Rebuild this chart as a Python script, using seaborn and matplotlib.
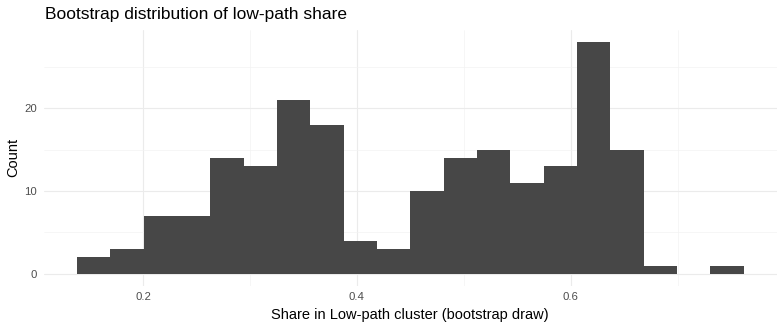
import matplotlib
matplotlib.use("Agg")
import matplotlib.pyplot as plt
import seaborn as sns
import numpy as np
import pandas as pd
from matplotlib.ticker import MultipleLocator

# Histogram data
bin_left = 0.1383
bin_width = 0.03117
counts = [2, 3, 7, 7, 14, 13, 21, 18, 4, 3, 10, 14, 15, 11, 13, 28, 15, 1, 0, 1]
x_ticks = [0.2, 0.4, 0.6]
x_tick_labels = ["0.2", "0.4", "0.6"]
y_ticks = [0, 10, 20]
y_tick_labels = ["0", "10", "20"]

title = "Bootstrap distribution of low-path share"
xlabel = "Share in Low-path cluster (bootstrap draw)"
ylabel = "Count"

edges = [bin_left + bin_width * i for i in range(len(counts) + 1)]
centers = [(edges[i] + edges[i + 1]) / 2 for i in range(len(counts))]
df = pd.DataFrame({"share": centers, "count": counts})

sns.set_style("white")
plt.rcParams["font.family"] = ["Liberation Sans", "DejaVu Sans"]

W, H = 784, 328
fig = plt.figure(figsize=(W / 100, H / 100), dpi=100)
pl, pr, pt, pb = 43.5, 777, 30, 285.6
ax = fig.add_axes([pl / W, 1 - pb / H, (pr - pl) / W, (pb - pt) / H])

sns.histplot(data=df, x="share", weights="count", bins=edges, color="#474747",
             alpha=1, linewidth=0, ax=ax, zorder=3)

ax.set_xlim(0.107, 0.793)
ax.set_ylim(-1.4, 29.4)
ax.set_xticks(x_ticks)
ax.set_xticklabels(x_tick_labels)
ax.set_yticks(y_ticks)
ax.set_yticklabels(y_tick_labels)
ax.xaxis.set_minor_locator(MultipleLocator(0.1))
ax.yaxis.set_minor_locator(MultipleLocator(5))

ax.grid(which="major", color="#EBEBEB", linewidth=0.8, zorder=0)
ax.grid(which="minor", color="#F2F2F2", linewidth=0.45, zorder=0)
ax.set_axisbelow(True)
for s in ax.spines.values():
    s.set_visible(False)
ax.tick_params(which="both", length=0)
ax.tick_params(axis="x", pad=4.5, labelsize=8.2, labelcolor="#4D4D4D")
ax.tick_params(axis="y", pad=4.5, labelsize=8.2, labelcolor="#4D4D4D")

ax.set_xlabel(xlabel, fontsize=10.5, color="black", va="center")
ax.xaxis.set_label_coords(0.5, (pb - 315) / (pb - pt))
ax.set_ylabel(ylabel, fontsize=10.5, color="black", va="center")
ax.yaxis.set_label_coords((13 - pl) / (pr - pl), 0.5)

fig.text(pl / W + 0.002, 1 - 15 / H, title, fontsize=12.5, color="black",
         va="center", ha="left")

fig.savefig("out.png", dpi=100)
